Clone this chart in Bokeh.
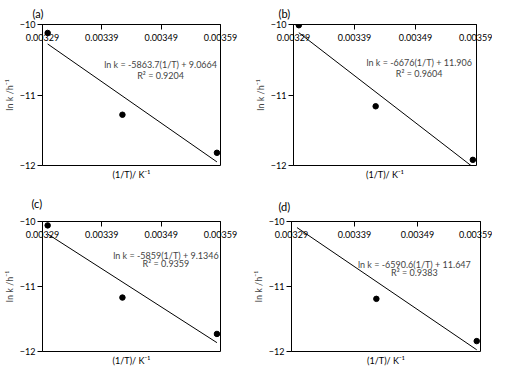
from bokeh.plotting import figure
from bokeh.models import LinearAxis, FixedTicker, Title, Label, Range1d
from bokeh.layouts import column, row
from bokeh.embed import file_html
from bokeh.resources import INLINE

# data
inv_T = [0.0032987, 0.0034247, 0.003584]
lnk_a = [-10.12, -11.28, -11.82]
lnk_b = [-10.01, -11.16, -11.92]
lnk_c = [-10.06, -11.17, -11.73]
lnk_d = [-9.96, -11.19, -11.84]
slopes = [-5863.7, -6676.0, -5859.0, -6590.6]
intercepts = [9.0664, 11.906, 9.1346, 11.647]
r2 = ["0.9204", "0.9604", "0.9359", "0.9383"]
eq_text = ["ln k = -5863.7(1/T) + 9.0664", "ln k = -6676(1/T) + 11.906",
           "ln k = -5859(1/T) + 9.1346", "ln k = -6590.6(1/T) + 11.647"]
panel_labels = ["(a)", "(b)", "(c)", "(d)"]
x_ticks = [0.00329, 0.00339, 0.00349, 0.00359]
y_ticks = [-12, -11, -10]

FONT = "Lato"

geo = [
    dict(bl=34, bt=18, bb=17, ts=9, to=-10, eqx=0.003489, y1=-10.57, y2=-10.72),
    dict(bl=47, bt=18, bb=18, ts=9, to=-15, eqx=0.003496, y1=-10.54, y2=-10.69),
    dict(bl=35, bt=34, bb=11, ts=23, to=-11, eqx=0.003498, y1=-10.52, y2=-10.65),
    dict(bl=45, bt=32, bb=11, ts=17, to=-13, eqx=0.003485, y1=-10.66, y2=-10.79),
]
fw = [186, 183, 185, 189]
W = 246
H = 183


def panel(i, ys):
    g = geo[i]
    p = figure(width=W, height=H, output_backend="svg", toolbar_location=None,
               x_range=Range1d(x_ticks[0], x_ticks[-1]), y_range=Range1d(-12, -10),
               x_axis_location=None, y_axis_location="left",
               min_border_left=g["bl"], min_border_right=W - g["bl"] - fw[i],
               min_border_top=g["bt"], min_border_bottom=g["bb"])
    p.title = Title(text=panel_labels[i], align="left", offset=g["to"], text_font_size="11px",
                    text_font_style="normal", text_font=FONT, text_color="black",
                    standoff=g["ts"])
    p.grid.visible = False
    p.outline_line_color = "black"
    p.outline_line_width = 1
    p.background_fill_color = "white"
    p.border_fill_color = "white"

    ya = p.yaxis[0]
    ya.ticker = FixedTicker(ticks=y_ticks)
    ya.axis_label = "ln k /h\u207b\u00b9"
    ya.axis_label_text_font_size = "9px"
    ya.axis_label_text_font_style = "normal"
    ya.axis_label_text_font = FONT
    ya.axis_label_standoff = 2
    ya.major_label_standoff = 2
    ya.major_label_text_font_size = "9px"
    ya.major_label_text_font = FONT
    ya.major_tick_out = 5
    ya.major_tick_in = 0
    ya.minor_tick_out = 0
    ya.minor_tick_in = 0
    ya.axis_line_color = "black"
    ya.major_tick_line_color = "black"
    ya.major_label_text_color = "black"

    xa = LinearAxis(ticker=FixedTicker(ticks=x_ticks),
                    major_label_overrides={t: f"{t:.5f}" for t in x_ticks})
    xa.major_label_text_font_size = "9px"
    xa.major_label_text_font = FONT
    xa.major_label_text_color = "black"
    xa.major_tick_out = 0
    xa.major_tick_in = 5
    xa.minor_tick_out = 0
    xa.minor_tick_in = 0
    xa.major_label_standoff = -16
    p.add_layout(xa, "above")
    p.add_layout(Title(text="(1/T)/ K\u207b\u00b9", align="center", text_font_size="9px",
                       text_font_style="normal", text_font=FONT, text_color="black",
                       standoff=2), "below")

    xs = [min(inv_T), max(inv_T)]
    p.line(xs, [slopes[i] * x + intercepts[i] for x in xs], line_color="black", line_width=1)
    p.scatter(inv_T, ys, size=5.5, color="black")

    p.add_layout(Label(x=g["eqx"], y=g["y1"], text=eq_text[i], text_align="center",
                       text_baseline="middle", text_font_size="9px", text_font=FONT))
    p.add_layout(Label(x=g["eqx"], y=g["y2"], text="R\u00b2 = " + r2[i], text_align="center",
                       text_baseline="middle", text_font_size="9px", text_font=FONT))
    return p


pa = panel(0, lnk_a)
pb = panel(1, lnk_b)
pc = panel(2, lnk_c)
pd = panel(3, lnk_d)

layout = column(row(pa, pb), row(pc, pd))
open("out.html", "w").write(file_html(layout, INLINE))
